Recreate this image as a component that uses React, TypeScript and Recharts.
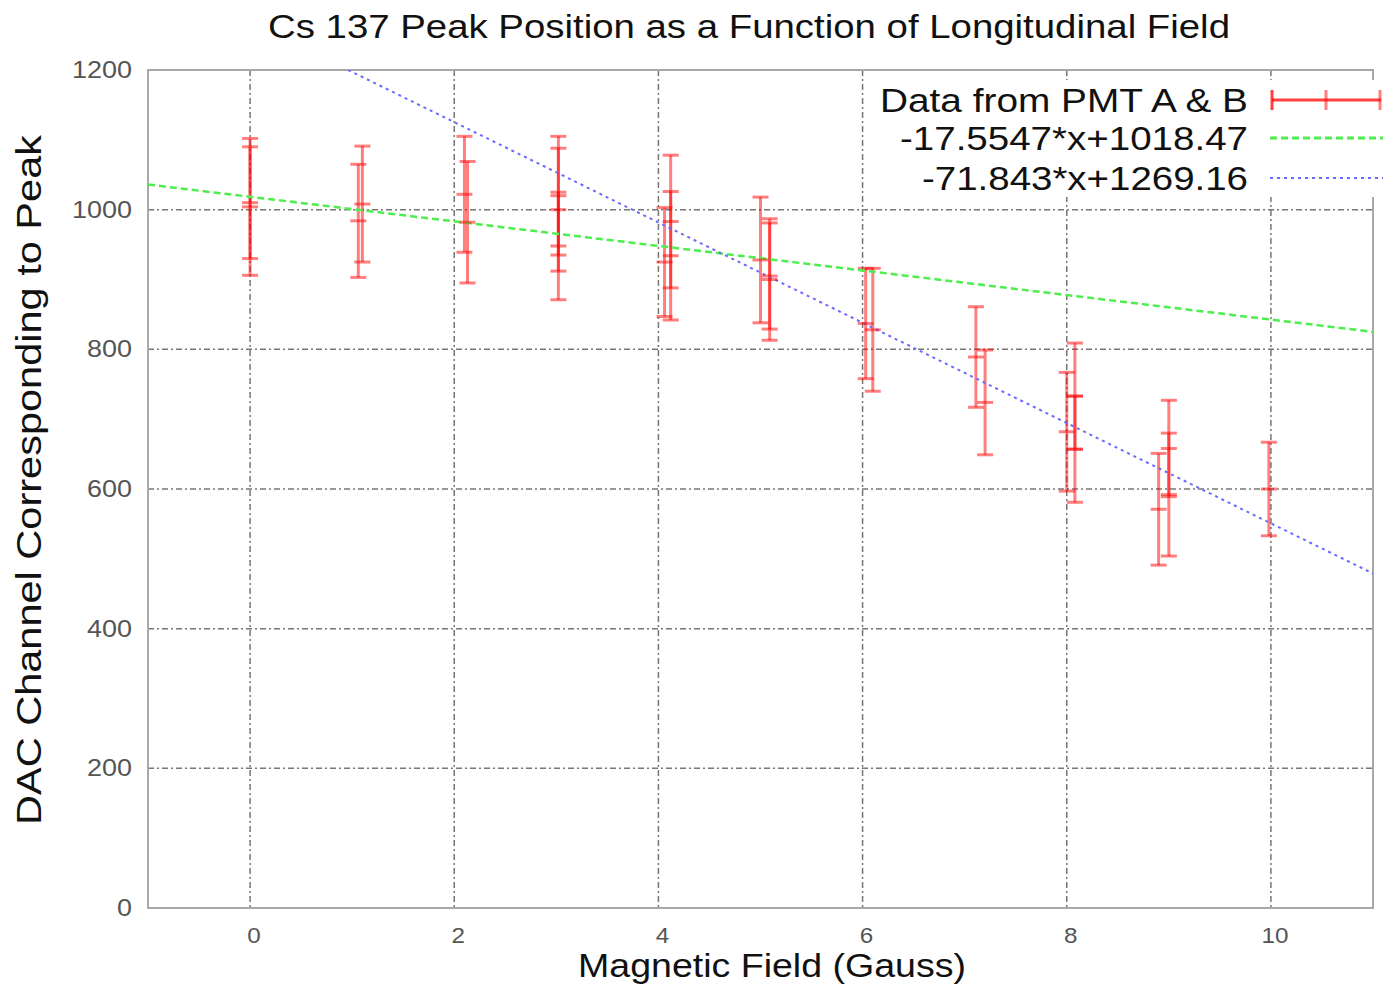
import React from 'react';
import { ScatterChart, Scatter, XAxis, YAxis, CartesianGrid, ErrorBar, ReferenceArea } from 'recharts';

// measured peak positions (several runs per field value, PMT A & B)
const fieldGauss = [0, 0, 1.06, 1.1, 2.1, 2.13, 3.02, 3.02, 3.02, 4.06, 4.12, 4.12, 5.0, 5.09, 5.09, 6.03, 6.1, 7.11, 7.2, 8.0, 8.08, 8.08, 8.9, 9.0, 9.0, 9.98];
const peakChannel = [1004, 1010, 984, 1008, 1022, 982, 1000, 1020, 948, 925, 983, 934, 928, 900, 905, 837, 828, 789, 724, 682, 733, 657, 571, 658, 592, 600];
const peakError = [98, 80, 81, 83, 83, 87, 88, 85, 77, 78, 95, 92, 90, 87, 76, 79, 88, 72, 75, 85, 76, 76, 80, 69, 88, 67];

// fit line end points
const fitAX = [-1, 11];
const fitAY = [1036, 825];
const fitBX = [0.96, 11];
const fitBY = [1200, 479];

const xTicks = [0, 2, 4, 6, 8, 10];
const yTicks = [0, 200, 400, 600, 800, 1000, 1200];
const legendLabels = ['Data from PMT A & B', '-17.5547*x+1018.47', '-71.843*x+1269.16'];

const FONT = '"Liberation Sans", Arial, Helvetica, sans-serif';
const RED = 'rgba(255,0,0,0.5)';
const GREEN = '#4dee4d';
const BLUE = '#6a6aff';

const points = fieldGauss.map((x, i) => ({ x, y: peakChannel[i], err: peakError[i] }));
const fitA = fitAX.map((x, i) => ({ x, y: fitAY[i] }));
const fitB = fitBX.map((x, i) => ({ x, y: fitBY[i] }));

const PointTick = (props: any) => {
  const { cx, cy } = props;
  if (cx == null || cy == null) return <g />;
  return <line x1={cx - 8} x2={cx + 8} y1={cy} y2={cy} stroke={RED} strokeWidth={3} />;
};

const NoMark = () => <g />;

const XTick = (props: any) => {
  const { x, y, payload } = props;
  const s = String(payload.value);
  return (
    <text x={x + 4} y={y + 35} textAnchor="middle" fontSize={22} fill="#555" fontFamily={FONT}
      textLength={s.length * 13.5} lengthAdjust="spacingAndGlyphs">
      {s}
    </text>
  );
};

const YTick = (props: any) => {
  const { x, y, payload } = props;
  const s = String(payload.value);
  return (
    <text x={x - 16} y={y + 8} textAnchor="end" fontSize={24} fill="#555" fontFamily={FONT}
      textLength={s.length * 15} lengthAdjust="spacingAndGlyphs">
      {s}
    </text>
  );
};

export default function App() {
  return (
    <div style={{ position: 'absolute', left: 0, top: 0, width: 1383, height: 985, background: '#fff' }}>
      <ScatterChart width={1383} height={985} margin={{ top: 70, right: 10, bottom: 47, left: 88 }}>
        <CartesianGrid stroke="#777" strokeWidth={1.5} strokeDasharray="6 3 2 3" />
        <XAxis type="number" dataKey="x" domain={[-1, 11]} ticks={xTicks} allowDataOverflow
          height={30} axisLine={false} tickLine={false} tickSize={0} tickMargin={0} tick={XTick} />
        <YAxis type="number" dataKey="y" domain={[0, 1200]} ticks={yTicks} allowDataOverflow
          width={60} axisLine={false} tickLine={false} tickSize={0} tickMargin={0} tick={YTick} />
        <ReferenceArea x1={-1} x2={11} y1={0} y2={1200} fill="none" stroke="#a8a8a8" strokeWidth={2} fillOpacity={0} />
        <Scatter data={fitA} shape={NoMark} isAnimationActive={false}
          line={{ stroke: GREEN, strokeWidth: 2.5, strokeDasharray: '7 4' }} />
        <Scatter data={fitB} shape={NoMark} isAnimationActive={false}
          line={{ stroke: BLUE, strokeWidth: 2, strokeDasharray: '3 4' }} />
        <Scatter data={points} shape={PointTick} isAnimationActive={false}>
          <ErrorBar dataKey="err" direction="y" width={8} stroke={RED} strokeWidth={3} isAnimationActive={false} />
        </Scatter>
      </ScatterChart>

      <svg width={1383} height={985} style={{ position: 'absolute', left: 0, top: 0, pointerEvents: 'none' }}>
        <text x={749} y={38} textAnchor="middle" fontSize={34} fontFamily={FONT} fill="#111"
          textLength={962} lengthAdjust="spacingAndGlyphs">
          Cs 137 Peak Position as a Function of Longitudinal Field
        </text>
        <text x={772} y={977} textAnchor="middle" fontSize={33} fontFamily={FONT} fill="#111"
          textLength={388} lengthAdjust="spacingAndGlyphs">
          Magnetic Field (Gauss)
        </text>
        <text x={41} y={480} transform="rotate(-90, 41, 480)" textAnchor="middle" fontSize={35} fontFamily={FONT} fill="#111"
          textLength={690} lengthAdjust="spacingAndGlyphs">
          DAC Channel Corresponding to Peak
        </text>

        {/* key */}
        <rect x={868} y={80} width={515} height={117} fill="#fff" />
        <text x={1248} y={112} textAnchor="end" fontSize={33} fontFamily={FONT} fill="#111"
          textLength={368} lengthAdjust="spacingAndGlyphs">{legendLabels[0]}</text>
        <text x={1248} y={150} textAnchor="end" fontSize={33} fontFamily={FONT} fill="#111"
          textLength={348} lengthAdjust="spacingAndGlyphs">{legendLabels[1]}</text>
        <text x={1248} y={190} textAnchor="end" fontSize={33} fontFamily={FONT} fill="#111"
          textLength={326} lengthAdjust="spacingAndGlyphs">{legendLabels[2]}</text>

        <line x1={1272} x2={1381} y1={100} y2={100} stroke="rgba(255,0,0,0.75)" strokeWidth={3} />
        <line x1={1272} x2={1272} y1={90} y2={110} stroke="rgba(255,0,0,0.75)" strokeWidth={3} />
        <line x1={1326} x2={1326} y1={90} y2={110} stroke={RED} strokeWidth={3} />
        <line x1={1380} x2={1380} y1={90} y2={110} stroke={RED} strokeWidth={3} />
        <line x1={1270} x2={1383} y1={138} y2={138} stroke={GREEN} strokeWidth={3} strokeDasharray="7 4" />
        <line x1={1270} x2={1383} y1={178} y2={178} stroke={BLUE} strokeWidth={2} strokeDasharray="3 4" />
      </svg>
    </div>
  );
}
